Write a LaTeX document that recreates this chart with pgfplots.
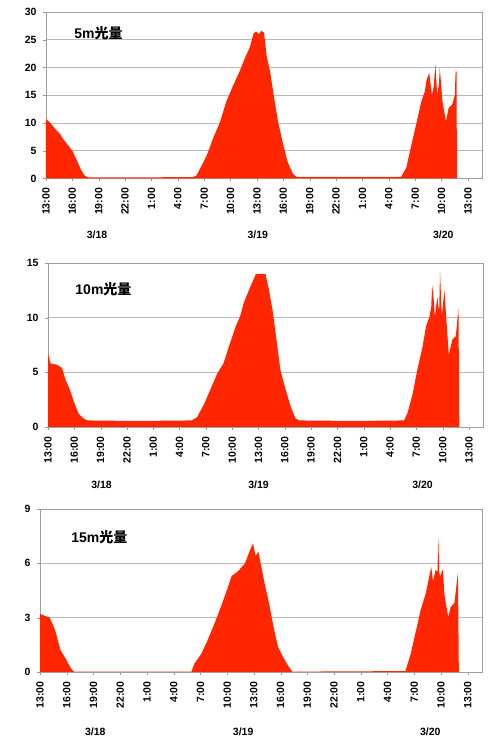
\documentclass[border=0pt]{standalone}
\usepackage{fontspec}
\setmainfont{Liberation Sans}
\newfontfamily\cjk{Noto Sans CJK JP}
\usepackage{pgfplots}
\pgfplotsset{compat=1.18}
\definecolor{redc}{RGB}{255,38,0}
\pgfplotsset{panel/.style={
  scale only axis, anchor=south west, clip=false,
  xmin=0, xmax=49.6,
  xtick={0,3,...,48},
  xticklabels={13:00,16:00,19:00,22:00,1:00,4:00,7:00,10:00,13:00,16:00,19:00,22:00,1:00,4:00,7:00,10:00,13:00},
  xticklabel style={rotate=90, anchor=east, font=\bfseries\fontsize{10.5}{12}\selectfont},
  yticklabel style={font=\bfseries\fontsize{10.5}{12}\selectfont},
  /pgf/number format/assume math mode=true,
  tick align=outside, major tick length=3pt,
  tick style={gray!80},
  axis line style={gray!75},
  ymajorgrids, major grid style={gray!55, line width=0.5pt},
  xtick pos=bottom, ytick pos=left,
  xticklabel shift=3pt, yticklabel shift=3pt,
}}
\begin{document}
\begin{tikzpicture}
\path[use as bounding box] (0pt,0pt) rectangle (490pt,747pt);
% Panel 1
\begin{axis}[panel, at={(46pt,568.5pt)}, width=436pt, height=166.5pt,
  ymin=0, ymax=30, ytick={0,5,...,30}]
\addplot[fill=redc, draw=none] table {
0 10.7
0.5 10.0
1.0 9.0
1.6 8.0
2.0 7.0
2.5 6.0
3.0 5.0
3.5 3.3
4.0 1.5
4.4 0.5
4.8 0.2
10 0.2
16.7 0.25
17.1 0.5
17.5 1.7
18.3 4.2
19.0 7.2
19.8 10.2
20.5 13.8
21.3 16.8
22.0 19.2
22.6 21.6
23.2 23.7
23.6 26.1
23.9 26.5
24.2 26.0
24.5 26.6
24.8 26.3
25.1 22.1
25.5 19.2
25.9 15.0
26.4 10.2
27.0 6.0
27.5 2.9
28.1 0.8
28.5 0.3
35 0.3
40.4 0.3
41.0 2.0
41.4 4.9
42.1 9.7
42.7 13.9
43.1 15.7
43.3 17.8
43.6 19.0
43.9 15.0
44.1 16.5
44.3 20.6
44.5 15.0
44.7 17.0
44.8 19.9
45.1 13.9
45.5 10.3
45.8 12.7
46.2 13.3
46.5 15.0
46.6 19.3
46.7 19.3
46.75 0
} \closedcycle;
\node[anchor=west, font=\bfseries\fontsize{14}{16}\selectfont] at (rel axis cs:0.057,0.87) {5m{\cjk\bfseries 光量}};
\node[font=\bfseries\fontsize{10.5}{12}\selectfont] at (axis cs:5.8,0) [yshift=-56.5pt] {3/18};
\node[font=\bfseries\fontsize{10.5}{12}\selectfont] at (axis cs:24.1,0) [yshift=-56.5pt] {3/19};
\node[font=\bfseries\fontsize{10.5}{12}\selectfont] at (axis cs:45.2,0) [yshift=-56.5pt] {3/20};
\end{axis}
% Panel 2
\begin{axis}[panel, at={(48pt,320pt)}, width=435pt, height=164pt,
  ymin=0, ymax=15, ytick={0,5,10,15}]
\addplot[fill=redc, draw=none] table {
0 6.7
0.3 5.8
1.0 5.7
1.6 5.4
2.0 4.3
2.5 3.4
3.0 2.2
3.5 1.2
4.0 0.8
4.5 0.6
10 0.55
16.4 0.6
17.0 0.9
17.8 2.1
18.5 3.4
19.3 4.9
20.0 5.8
20.6 7.3
21.4 9.2
21.9 10.1
22.3 11.3
22.9 12.5
23.5 13.6
23.7 14.0
24.8 14.0
25.2 12.5
25.6 10.7
26.0 8.3
26.5 5.2
27.1 3.4
27.7 1.8
28.2 0.8
28.6 0.6
35 0.55
40.6 0.6
41.0 1.3
41.6 3.1
42.1 5.2
42.7 7.3
43.1 9.2
43.5 10.1
43.7 11.0
43.8 13.0
44.0 11.5
44.1 10.1
44.4 11.9
44.6 10.5
44.7 14.2
44.9 10.1
45.2 12.5
45.5 8.9
45.7 6.6
46.1 8.0
46.5 8.3
46.8 10.9
46.9 0
} \closedcycle;
\node[anchor=west, font=\bfseries\fontsize{14}{16}\selectfont] at (rel axis cs:0.055,0.84) {10m{\cjk\bfseries 光量}};
\node[font=\bfseries\fontsize{10.5}{12}\selectfont] at (axis cs:6.1,0) [yshift=-58pt] {3/18};
\node[font=\bfseries\fontsize{10.5}{12}\selectfont] at (axis cs:24.0,0) [yshift=-58pt] {3/19};
\node[font=\bfseries\fontsize{10.5}{12}\selectfont] at (axis cs:42.7,0) [yshift=-58pt] {3/20};
\end{axis}
% Panel 3
\begin{axis}[panel, at={(40pt,75pt)}, width=442pt, height=163pt,
  ymin=0, ymax=9, ytick={0,3,6,9}]
\addplot[fill=redc, draw=none] table {
0 3.2
1.1 3.0
1.7 2.3
2.3 1.2
2.8 0.8
3.4 0.25
3.8 0.02
17.0 0.02
17.3 0.45
18.1 1.0
18.8 1.75
19.6 2.7
20.3 3.6
21.1 4.7
21.5 5.3
22.2 5.55
23.0 6.0
23.5 6.65
23.9 7.1
24.2 6.4
24.5 6.65
24.9 5.65
25.2 4.9
25.7 3.8
26.2 2.5
26.7 1.4
27.3 0.8
27.9 0.3
28.3 0.02
41.0 0.05
41.6 1.0
42.2 2.3
42.7 3.4
43.3 4.35
43.6 5.1
43.9 5.8
44.1 5.0
44.4 5.65
44.6 5.5
44.7 7.4
44.8 5.5
44.9 5.3
45.2 5.65
45.4 4.2
45.8 3.05
46.1 3.6
46.5 3.8
46.9 5.5
47.0 0
} \closedcycle;
\node[anchor=west, font=\bfseries\fontsize{14}{16}\selectfont] at (rel axis cs:0.063,0.83) {15m{\cjk\bfseries 光量}};
\node[font=\bfseries\fontsize{10.5}{12}\selectfont] at (axis cs:6.2,0) [yshift=-60pt] {3/18};
\node[font=\bfseries\fontsize{10.5}{12}\selectfont] at (axis cs:22.8,0) [yshift=-60pt] {3/19};
\node[font=\bfseries\fontsize{10.5}{12}\selectfont] at (axis cs:43.8,0) [yshift=-60pt] {3/20};
\end{axis}
\end{tikzpicture}
\end{document}
